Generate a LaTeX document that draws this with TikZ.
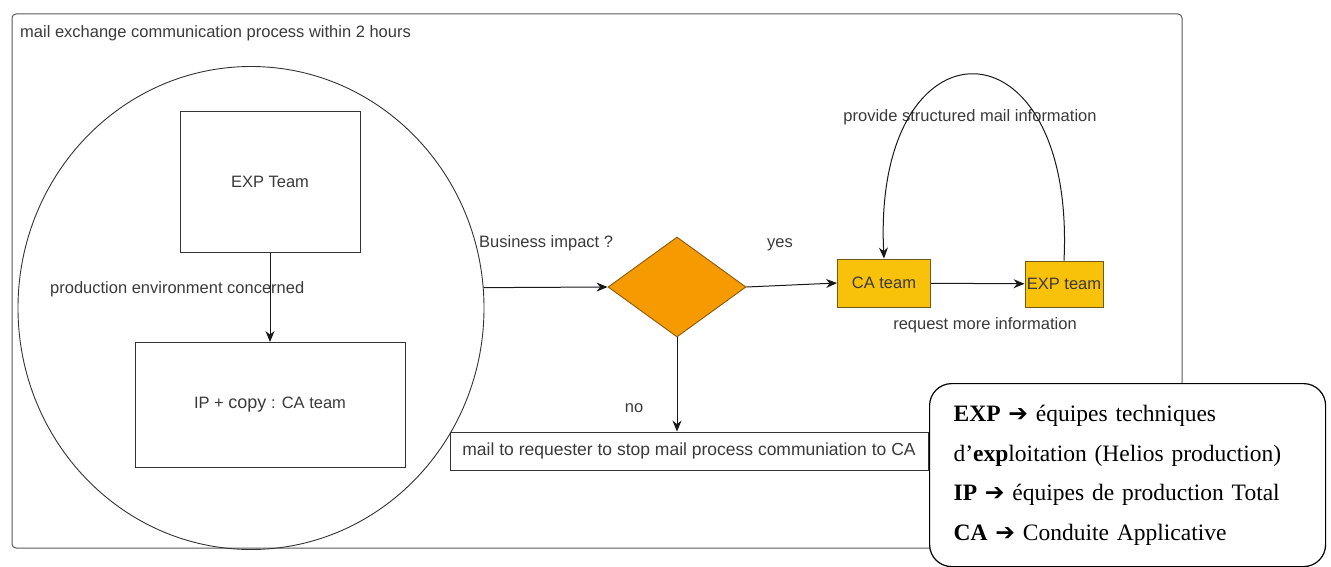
\documentclass[tikz,border=0pt]{standalone}
\usepackage{fontspec}
\setmainfont{Liberation Sans}
\newfontfamily\legendfont{Liberation Serif}
\newfontfamily\arrowfont{DejaVu Sans}
\usetikzlibrary{shapes.geometric,arrows.meta}
\definecolor{decision}{HTML}{F59A00}
\definecolor{decisionline}{HTML}{8A5A10}
\definecolor{teambox}{HTML}{F9C20A}
\definecolor{teamline}{HTML}{6E5A14}
\definecolor{labeltext}{HTML}{3A3A3A}
\tikzset{
	lbl/.style={text=labeltext, font=\fontsize{16.5}{18}\selectfont, inner sep=0pt},
	plainbox/.style={draw=black!80, line width=0.9pt, text=labeltext, font=\fontsize{16.5}{18}\selectfont},
	team/.style={draw=teamline, fill=teambox, line width=0.9pt, text=labeltext, font=\fontsize{16.5}{18}\selectfont, inner sep=0pt},
	flow/.style={draw=black!90, line width=1pt, -{Stealth[length=11pt,width=9pt]}},
}
\newcommand{\legarrow}{{\arrowfont\bfseries\symbol{"2794}}}
\begin{document}
\begin{tikzpicture}[x=1pt,y=-1pt]
	\useasboundingbox (0,0) rectangle (1331,567);
	\node (frame) at (597,281) [draw=black!65, line width=1pt, rounded corners=4pt, minimum width=1170pt, minimum height=534pt] {};
	\node (title) at (20,33) [lbl, anchor=west] {mail exchange communication process within 2 hours};
	
	\node (group) at (251,308) [ellipse, draw=black!80, line width=0.9pt, minimum width=466pt, minimum height=483pt] {};
	\node (EXP1) at (270,182) [plainbox, minimum width=180pt, minimum height=141pt] {EXP Team};
	\node (IP) at (270,405) [plainbox, minimum width=270pt, minimum height=125pt] {IP + {\fontsize{18}{18}\selectfont copy} : CA team};
	\node (impact) at (677,287) [diamond, draw=decisionline, fill=decision, line width=0.9pt, minimum width=138pt, minimum height=100pt, inner sep=0pt, aspect=1.38] {};
	\node (CA) at (884,283) [team, minimum width=93pt, minimum height=48pt] {CA team};
	\node (EXP2) at (1064,284) [team, minimum width=78pt, minimum height=46pt] {EXP team};
	\node (stop) at (689,451) [plainbox, minimum width=478pt, minimum height=38pt, inner sep=0pt, font=\fontsize{17.5}{18}\selectfont] {mail to requester to stop mail process communiation to CA};
	
	\node (concerned) at (50,289) [lbl, anchor=west] {production environment concerned};
	\node (business) at (479,243) [lbl, anchor=west] {Business impact ?};
	\node (yes) at (780,245) [lbl] {yes};
	\node (no) at (634,408) [lbl] {no};
	\node (provide) at (970,117) [lbl] {provide structured mail information};
	\node (request) at (985,325) [lbl] {request more information};
	
	\draw [flow] (EXP1) -> (IP);
	\draw [flow] (group.5) -> (impact.west);
	\draw [flow] (impact.east) -> (CA.west);
	\draw [flow] (CA) -> (EXP2);
	\draw [flow] (impact.south) -> (impact.south |- stop.north);
	\draw [flow] (EXP2.north) .. controls (1076,13) and (872,13) .. (CA.north);
	
	\node (legend) at (929,383) [anchor=north west, draw=black, line width=1.2pt, fill=white, rounded corners=22pt, minimum height=183pt, text width=348pt, align=left, inner xsep=24pt, inner ysep=12pt, font=\legendfont\fontsize{23.5}{39.5}\selectfont] {\textbf{EXP} \legarrow{} équipes techniques\\ d’\textbf{exp}loitation (Helios production)\\ \textbf{IP} \legarrow{} équipes de production Total\\ \textbf{CA} \legarrow{} Conduite Applicative};
\end{tikzpicture}
\end{document}
